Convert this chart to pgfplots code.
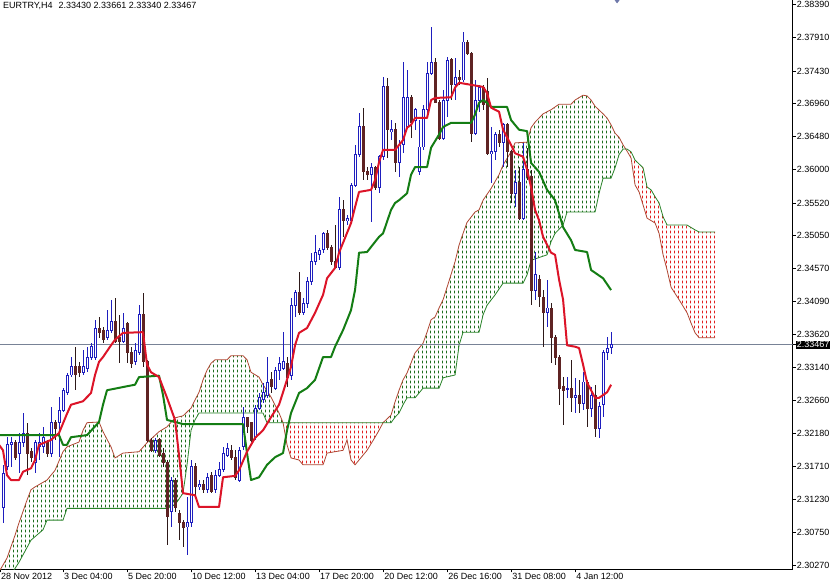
\documentclass[border=0pt]{standalone}
\usepackage{fontspec}
\setmainfont{Liberation Sans}
\usepackage{pgfplots}
\usepackage{pgfplotstable}
\pgfplotsset{compat=1.18}
\usepgfplotslibrary{fillbetween}
\usetikzlibrary{patterns}

\definecolor{bullc}{RGB}{30,30,190}
\definecolor{bearc}{RGB}{95,35,35}
\definecolor{bearw}{RGB}{45,25,25}
\definecolor{tenkan}{RGB}{220,20,40}
\definecolor{kijun}{RGB}{20,125,20}
\definecolor{spanA}{RGB}{175,70,50}
\definecolor{spanB}{RGB}{40,130,40}
\definecolor{dotg}{RGB}{30,110,30}
\definecolor{dotr}{RGB}{225,30,30}
\definecolor{pline}{RGB}{120,130,150}

% dotted vertical hatch of the cloud (one column per bar)
\pgfdeclarepatternformonly{ichidots}{\pgfqpoint{0pt}{0pt}}{\pgfqpoint{4pt}{4.5pt}}{\pgfqpoint{4pt}{4.5pt}}{%
  \pgfpathrectangle{\pgfqpoint{2.5pt}{0.7pt}}{\pgfqpoint{1pt}{3pt}}%
  \pgfusepath{fill}}

% H4 bars: index, open, high, low, close
\pgfplotstableread{
i o h l c
0 2.3115 2.3165 2.3093 2.3151
1 2.3111 2.3173 2.3089 2.3161
2 2.3170 2.3213 2.3165 2.3202
3 2.3202 2.3213 2.3170 2.3206
4 2.3205 2.3209 2.3180 2.3184
5 2.3190 2.3219 2.3161 2.3205
6 2.3205 2.3248 2.3199 2.3219
7 2.3219 2.3234 2.3158 2.3190
8 2.3192 2.3197 2.3177 2.3183
9 2.3176 2.3209 2.3161 2.3206
10 2.3199 2.3219 2.3180 2.3206
11 2.3199 2.3228 2.3190 2.3213
12 2.3205 2.3209 2.3184 2.3190
13 2.3190 2.3257 2.3184 2.3234
14 2.3234 2.3238 2.3209 2.3226
15 2.3234 2.3271 2.3184 2.3252
16 2.3252 2.3284 2.3250 2.3281
17 2.3278 2.3306 2.3274 2.3303
18 2.3303 2.3329 2.3300 2.3316
19 2.3316 2.3344 2.3281 2.3303
20 2.3315 2.3322 2.3300 2.3306
21 2.3307 2.3339 2.3303 2.3316
22 2.3313 2.3344 2.3307 2.3328
23 2.3328 2.3349 2.3325 2.3344
24 2.3328 2.3383 2.3325 2.3370
25 2.3370 2.3387 2.3357 2.3364
26 2.3368 2.3373 2.3349 2.3354
27 2.3357 2.3397 2.3354 2.3368
28 2.3368 2.3412 2.3364 2.3380
29 2.3380 2.3415 2.3349 2.3351
30 2.3357 2.3390 2.3320 2.3351
31 2.3351 2.3393 2.3349 2.3371
32 2.3378 2.3380 2.3320 2.3335
33 2.3336 2.3344 2.3313 2.3320
34 2.3322 2.3349 2.3318 2.3339
35 2.3335 2.3404 2.3332 2.3390
36 2.3390 2.3422 2.3315 2.3322
37 2.3322 2.3325 2.3206 2.3209
38 2.3209 2.3212 2.3192 2.3194
39 2.3194 2.3212 2.3190 2.3209
40 2.3209 2.3212 2.3184 2.3187
41 2.3190 2.3197 2.3170 2.3177
42 2.3177 2.3180 2.3057 2.3098
43 2.3105 2.3155 2.3083 2.3151
44 2.3151 2.3154 2.3105 2.3112
45 2.3103 2.3108 2.3064 2.3089
46 2.3090 2.3093 2.3054 2.3083
47 2.3083 2.3127 2.3042 2.3089
48 2.3089 2.3180 2.3083 2.3170
49 2.3170 2.3176 2.3127 2.3141
50 2.3141 2.3151 2.3137 2.3144
51 2.3144 2.3151 2.3132 2.3137
52 2.3137 2.3161 2.3132 2.3155
53 2.3158 2.3163 2.3132 2.3134
54 2.3137 2.3166 2.3132 2.3158
55 2.3158 2.3177 2.3155 2.3166
56 2.3166 2.3199 2.3163 2.3190
57 2.3187 2.3205 2.3184 2.3197
58 2.3194 2.3202 2.3180 2.3184
59 2.3183 2.3194 2.3151 2.3154
60 2.3151 2.3199 2.3148 2.3194
61 2.3199 2.3257 2.3194 2.3241
62 2.3241 2.3242 2.3219 2.3228
63 2.3234 2.3235 2.3206 2.3209
64 2.3212 2.3260 2.3209 2.3255
65 2.3255 2.3277 2.3252 2.3271
66 2.3267 2.3292 2.3262 2.3278
67 2.3274 2.3329 2.3270 2.3292
68 2.3296 2.3307 2.3277 2.3286
69 2.3284 2.3315 2.3281 2.3310
70 2.3310 2.3329 2.3296 2.3320
71 2.3313 2.3365 2.3310 2.3322
72 2.3320 2.3329 2.3286 2.3299
73 2.3302 2.3415 2.3296 2.3404
74 2.3404 2.3426 2.3387 2.3422
75 2.3423 2.3452 2.3390 2.3394
76 2.3394 2.3415 2.3390 2.3407
77 2.3407 2.3445 2.3400 2.3438
78 2.3438 2.3480 2.3433 2.3467
79 2.3467 2.3506 2.3462 2.3480
80 2.3477 2.3487 2.3469 2.3484
81 2.3484 2.3510 2.3480 2.3508
82 2.3508 2.3513 2.3484 2.3488
83 2.3488 2.3491 2.3462 2.3467
84 2.3467 2.3520 2.3458 2.3459
85 2.3459 2.3561 2.3455 2.3542
86 2.3542 2.3556 2.3503 2.3527
87 2.3527 2.3535 2.3520 2.3529
88 2.3527 2.3581 2.3524 2.3578
89 2.3578 2.3636 2.3575 2.3622
90 2.3622 2.3682 2.3619 2.3662
91 2.3662 2.3690 2.3585 2.3597
92 2.3597 2.3604 2.3585 2.3593
93 2.3593 2.3610 2.3524 2.3603
94 2.3603 2.3606 2.3571 2.3575
95 2.3575 2.3622 2.3566 2.3619
96 2.3619 2.3734 2.3614 2.3720
97 2.3720 2.3733 2.3617 2.3658
98 2.3655 2.3672 2.3643 2.3658
99 2.3658 2.3668 2.3597 2.3611
100 2.3611 2.3643 2.3590 2.3636
101 2.3636 2.3756 2.3624 2.3705
102 2.3662 2.3745 2.3661 2.3705
103 2.3705 2.3708 2.3646 2.3668
104 2.3672 2.3690 2.3658 2.3687
105 2.3597 2.3672 2.3593 2.3633
106 2.3633 2.3694 2.3629 2.3687
107 2.3687 2.3756 2.3675 2.3740
108 2.3740 2.3807 2.3737 2.3756
109 2.3756 2.3762 2.3697 2.3698
110 2.3698 2.3701 2.3643 2.3646
111 2.3646 2.3716 2.3643 2.3701
112 2.3701 2.3763 2.3677 2.3759
113 2.3759 2.3762 2.3701 2.3723
114 2.3723 2.3762 2.3701 2.3734
115 2.3734 2.3745 2.3723 2.3730
116 2.3730 2.3800 2.3727 2.3785
117 2.3785 2.3788 2.3766 2.3769
118 2.3769 2.3771 2.3640 2.3653
119 2.3653 2.3730 2.3650 2.3701
120 2.3701 2.3723 2.3684 2.3719
121 2.3719 2.3723 2.3687 2.3694
122 2.3713 2.3733 2.3622 2.3624
123 2.3624 2.3662 2.3581 2.3626
124 2.3626 2.3655 2.3614 2.3651
125 2.3651 2.3658 2.3633 2.3640
126 2.3640 2.3668 2.3604 2.3665
127 2.3665 2.3668 2.3604 2.3626
128 2.3626 2.3629 2.3552 2.3566
129 2.3566 2.3600 2.3546 2.3582
130 2.3582 2.3604 2.3527 2.3530
131 2.3530 2.3639 2.3527 2.3600
132 2.3600 2.3632 2.3585 2.3590
133 2.3590 2.3600 2.3404 2.3426
134 2.3426 2.3481 2.3412 2.3448
135 2.3441 2.3448 2.3401 2.3416
136 2.3416 2.3426 2.3344 2.3393
137 2.3393 2.3441 2.3373 2.3400
138 2.3400 2.3407 2.3320 2.3357
139 2.3357 2.3361 2.3318 2.3329
140 2.3329 2.3332 2.3260 2.3284
141 2.3286 2.3300 2.3231 2.3281
142 2.3283 2.3300 2.3270 2.3284
143 2.3284 2.3325 2.3250 2.3271
144 2.3271 2.3299 2.3248 2.3274
145 2.3274 2.3296 2.3248 2.3262
146 2.3262 2.3307 2.3252 2.3293
147 2.3292 2.3296 2.3228 2.3255
148 2.3255 2.3286 2.3242 2.3274
149 2.3274 2.3289 2.3213 2.3226
150 2.3226 2.3264 2.3212 2.3257
151 2.3260 2.3339 2.3242 2.3336
152 2.3336 2.3358 2.3325 2.3342
153 2.33430 2.33661 2.33340 2.33467
}\candles

% Tenkan-sen
\pgfplotstableread{
i v
0 2.3202
1 2.3194
2 2.3158
3 2.3151
5 2.3151
6 2.3163
8 2.3168
9 2.3180
10 2.3202
13 2.3209
15 2.3219
17 2.3247
18 2.3260
21 2.3265
23 2.3277
24 2.3303
25 2.3322
26 2.3329
28 2.3346
29 2.3354
31 2.3364
36 2.3365
37 2.3318
38 2.3307
40 2.3300
42 2.3270
44 2.3238
45 2.3187
46 2.3132
49 2.3129
50 2.3112
55 2.3112
56 2.3155
59 2.3157
60 2.3165
62 2.3192
64 2.3212
66 2.3223
68 2.3242
70 2.3260
71 2.3278
73 2.3315
74 2.3346
75 2.3364
77 2.3371
79 2.3393
81 2.3419
82 2.3443
84 2.3458
85 2.3480
88 2.3523
89 2.3546
90 2.3568
93 2.3571
94 2.3585
95 2.3611
96 2.3629
99 2.3629
101 2.3643
102 2.3661
103 2.3665
104 2.3675
107 2.3675
108 2.3701
109 2.3704
113 2.3705
114 2.3719
115 2.3726
118 2.3723
121 2.3720
122 2.3711
123 2.3690
125 2.3684
126 2.3658
128 2.3636
129 2.3624
131 2.3619
132 2.3600
133 2.3575
134 2.3542
135 2.3527
136 2.3503
138 2.3480
139 2.3477
140 2.3441
141 2.3412
142 2.3346
144 2.3344
145 2.3342
146 2.3318
147 2.3292
149 2.3270
150 2.3270
152 2.3278
153 2.3289
}\tenkansen

% Kijun-sen
\pgfplotstableread{
i v
0 2.3216
15 2.3216
16 2.3202
17 2.3202
18 2.3213
22 2.3216
25 2.3235
26 2.3260
27 2.3281
34 2.3289
35 2.3300
40 2.3302
41 2.3274
42 2.3238
46 2.3232
61 2.3232
62 2.3190
63 2.3151
65 2.3155
67 2.3173
69 2.3184
71 2.3190
72 2.3223
73 2.3248
75 2.3277
77 2.3284
79 2.3296
81 2.3329
83 2.3329
84 2.3344
86 2.3368
88 2.3397
89 2.3426
90 2.3480
92 2.3481
95 2.3503
96 2.3508
98 2.3542
99 2.3552
100 2.3556
102 2.3566
103 2.3593
104 2.3604
107 2.3604
108 2.3632
110 2.3651
111 2.3662
113 2.3668
118 2.3668
119 2.3680
120 2.3697
121 2.3701
122 2.3697
123 2.3691
127 2.3691
128 2.3672
130 2.3658
132 2.3656
133 2.3610
135 2.3597
137 2.3571
139 2.3556
141 2.3517
143 2.3498
144 2.3484
147 2.3481
148 2.3455
151 2.3443
153 2.3426
}\kijunsen

% Senkou span A (shifted 26 bars ahead)
\pgfplotstableread{
i v
0 2.3018
2 2.3038
4 2.3071
5 2.3089
7 2.3122
8 2.3137
9 2.3141
12 2.3151
14 2.3165
16 2.3192
17 2.3199
20 2.3206
21 2.3223
22 2.3234
25 2.3235
26 2.3221
28 2.3199
29 2.3183
31 2.3190
35 2.3192
37 2.3205
40 2.3221
42 2.3228
44 2.3241
46 2.3244
48 2.3255
49 2.3267
50 2.3278
51 2.3296
52 2.3310
53 2.3320
54 2.3325
57 2.3325
58 2.3331
61 2.3331
62 2.3325
63 2.3307
65 2.3300
66 2.3289
68 2.3271
70 2.3248
71 2.3234
72 2.3202
73 2.3183
75 2.3180
76 2.3173
81 2.3173
82 2.3190
86 2.3194
87 2.3209
88 2.3180
89 2.3173
90 2.3180
92 2.3194
94 2.3213
95 2.3223
96 2.3234
98 2.3245
99 2.3264
100 2.3281
101 2.3296
102 2.3306
104 2.3335
106 2.3349
107 2.3365
108 2.3383
109 2.3387
110 2.3400
111 2.3412
112 2.3430
114 2.3467
115 2.3491
116 2.3508
117 2.3524
119 2.3539
120 2.3542
121 2.3556
123 2.3573
125 2.3593
126 2.3607
128 2.3626
129 2.3639
132 2.3640
133 2.3661
134 2.3669
136 2.3681
138 2.3687
139 2.3691
140 2.3695
143 2.3695
144 2.3701
146 2.3708
147 2.3707
148 2.3701
149 2.3692
151 2.3681
152 2.3675
153 2.3665
154 2.3653
155 2.3647
156 2.3636
157 2.3627
158 2.3617
159 2.3578
160 2.3568
161 2.3549
162 2.3530
164 2.3523
165 2.3508
166 2.3477
167 2.3455
168 2.3430
170 2.3412
172 2.3393
173 2.3378
174 2.3364
175 2.3357
179 2.3357
}\senkouA

% Senkou span B (shifted 26 bars ahead)
\pgfplotstableread{
i v
0 2.2977
3 2.3014
5 2.3032
8 2.3064
11 2.3079
12 2.3093
16 2.3093
17 2.3110
42 2.3110
44 2.3115
46 2.3132
47 2.3173
48 2.3223
49 2.3238
50 2.3248
66 2.3248
67 2.3234
98 2.3234
99 2.3242
100 2.3248
101 2.3260
102 2.3270
104 2.3270
105 2.3277
106 2.3284
110 2.3284
111 2.3299
114 2.3303
115 2.3346
116 2.3365
120 2.3365
121 2.3390
122 2.3404
124 2.3419
126 2.3436
131 2.3436
132 2.3448
133 2.3469
137 2.3477
138 2.3496
139 2.3508
141 2.3520
142 2.3539
149 2.3539
150 2.3566
151 2.3588
153 2.3588
154 2.3603
155 2.3622
156 2.3630
157 2.3630
158 2.3626
159 2.3614
161 2.3603
162 2.3575
163 2.3571
164 2.3561
165 2.3552
166 2.3532
167 2.3520
172 2.3520
174 2.3513
175 2.3510
179 2.3510
}\senkouB

\begin{document}
\begin{tikzpicture}
\begin{axis}[
    scale only axis,
    width=792.7pt, height=569.3pt,
    set layers,
    xmin=0.25, xmax=198.4,
    ymin=2.30218, ymax=2.38458,
    separate axis lines,
    axis x line*=bottom,
    axis y line*=right,
    axis line style={draw=black, line width=0.9pt, -},
    tick align=outside,
    major tick length=3pt,
    tick style={black, line width=0.8pt},
    xtick={0.25,16,32,48,64,80,96,112,128,144},
    xticklabels={28 Nov 2012, 3 Dec 04:00, 5 Dec 20:00, 10 Dec 12:00, 13 Dec 04:00,
                 17 Dec 20:00, 20 Dec 12:00, 26 Dec 16:00, 31 Dec 08:00, 4 Jan 12:00},
    xticklabel style={anchor=north west, inner sep=0pt, xshift=1pt, yshift=-1pt},
    ytick={2.30270,2.30750,2.31230,2.31710,2.32180,2.32660,2.33140,2.33620,2.34090,
           2.34570,2.35050,2.35520,2.36000,2.36480,2.36960,2.37430,2.37910,2.38390},
    yticklabels={2.30270,2.30750,2.31230,2.31710,2.32180,2.32660,2.33140,2.33620,2.34090,
           2.34570,2.35050,2.35520,2.36000,2.36480,2.36960,2.37430,2.37910,2.38390},
    yticklabel style={anchor=west, inner sep=0pt, xshift=1pt},
    extra y ticks={2.33467},
    extra y tick labels={2.33467},
    extra y tick style={yticklabel style={fill=black, text=white, inner sep=1pt, xshift=-1pt}},
    tick label style={font=\fontsize{9}{10}\selectfont},
]

% cloud boundaries
\addplot[name path=sA, spanA, line width=0.8pt] table[x=i, y=v] {\senkouA};
\addplot[name path=sB, spanB, line width=0.8pt] table[x=i, y=v] {\senkouB};

% cloud hatching
\addplot[pattern=ichidots, pattern color=dotg] fill between[of=sA and sB, soft clip={domain=0:71}];
\addplot[pattern=ichidots, pattern color=dotr] fill between[of=sA and sB, soft clip={domain=71:96}];
\addplot[pattern=ichidots, pattern color=dotg] fill between[of=sA and sB, soft clip={domain=96:156.7}];
\addplot[pattern=ichidots, pattern color=dotr] fill between[of=sA and sB, soft clip={domain=156.7:180}];

% current price line
\addplot[pline, line width=0.8pt] coordinates {(0,2.33467) (200,2.33467)};

% wicks
\addplot[draw=none, mark=none,
    restrict expr to domain={\thisrow{c}-\thisrow{o}}{0:1},
    error bars/.cd, y dir=both, y explicit, error mark=none,
    error bar style={draw=bullc, line width=1pt}]
    table[x=i, y expr={(\thisrow{h}+\thisrow{l})/2}, y error expr={(\thisrow{h}-\thisrow{l})/2}] {\candles};
\addplot[draw=none, mark=none,
    restrict expr to domain={\thisrow{c}-\thisrow{o}}{-1:-0.00001},
    error bars/.cd, y dir=both, y explicit, error mark=none,
    error bar style={draw=bearw, line width=1pt}]
    table[x=i, y expr={(\thisrow{h}+\thisrow{l})/2}, y error expr={(\thisrow{h}-\thisrow{l})/2}] {\candles};

% bodies: bull = blue outline, white inside; bear = dark filled
\addplot[draw=none, mark=none,
    restrict expr to domain={\thisrow{c}-\thisrow{o}}{0:1},
    error bars/.cd, y dir=both, y explicit, error mark=none,
    error bar style={draw=bullc, line width=3pt}]
    table[x=i, y expr={(\thisrow{o}+\thisrow{c})/2}, y error expr={(\thisrow{c}-\thisrow{o})/2+0.00007}] {\candles};
\addplot[draw=none, mark=none,
    restrict expr to domain={\thisrow{c}-\thisrow{o}}{0:1},
    error bars/.cd, y dir=both, y explicit, error mark=none,
    error bar style={draw=white, line width=1pt}]
    table[x=i, y expr={(\thisrow{o}+\thisrow{c})/2}, y error expr={max((\thisrow{c}-\thisrow{o})/2-0.00007,0)}] {\candles};
\addplot[draw=none, mark=none,
    restrict expr to domain={\thisrow{c}-\thisrow{o}}{-1:-0.00001},
    error bars/.cd, y dir=both, y explicit, error mark=none,
    error bar style={draw=bearc, line width=3pt}]
    table[x=i, y expr={(\thisrow{o}+\thisrow{c})/2}, y error expr={(\thisrow{o}-\thisrow{c})/2+0.00007}] {\candles};

% tenkan / kijun
\addplot[kijun, line width=2pt, line join=round] table[x=i, y=v] {\kijunsen};
\addplot[tenkan, line width=2pt, line join=round] table[x=i, y=v] {\tenkansen};

% chart object marker at the top edge
\addplot[only marks, mark=diamond*, mark size=3pt, color={rgb,255:red,110;green,120;blue,170}]
    coordinates {(154.5,2.38458)};

\node[anchor=north west, inner sep=0pt, xshift=3pt, yshift=-2pt, font=\fontsize{9}{10}\selectfont]
    at (rel axis cs:0,1) {EURTRY,H4\hspace{6pt}2.33430 2.33661 2.33340 2.33467};
\end{axis}
\pgfresetboundingbox
\path[use as bounding box] (0pt,-16.7pt) rectangle (836pt,569.3pt);
\end{tikzpicture}
\end{document}
